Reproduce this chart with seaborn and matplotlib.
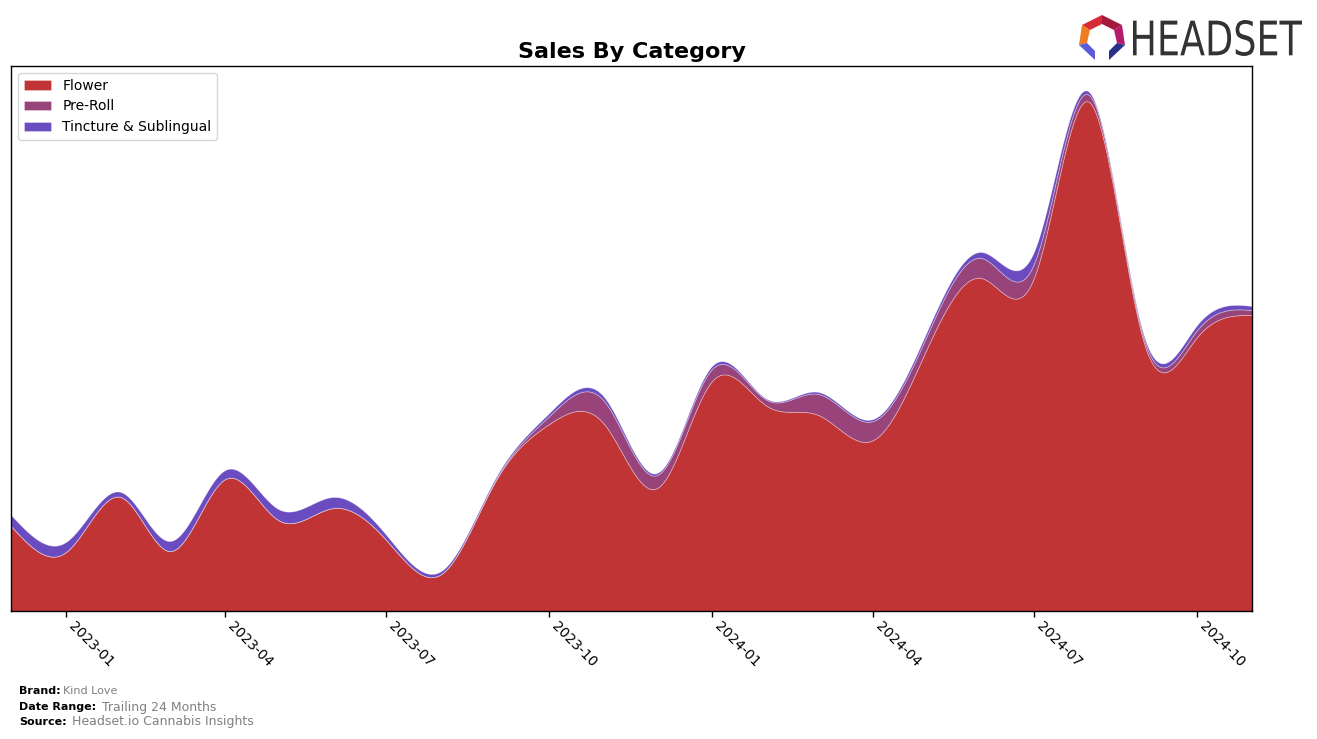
import numpy as np
import pandas as pd
import matplotlib
matplotlib.use("Agg")
import matplotlib.pyplot as plt
import matplotlib.dates as mdates
from matplotlib.patches import Polygon, PathPatch
from matplotlib.textpath import TextPath
from matplotlib.font_manager import FontProperties
from matplotlib.transforms import Affine2D
import seaborn as sns

# ---- data (monthly, arbitrary units) ----
months = pd.date_range("2022-12-01", "2024-11-01", freq="MS")
categories = ["Flower", "Pre-Roll", "Tincture & Sublingual"]
flower = [85, 59, 114, 60, 132, 91, 103, 71, 37, 131, 187, 187,
          123, 230, 205, 196, 171, 261, 333, 334, 509, 268, 274, 296]
preroll = [0, 0, 0, 0, 0, 0, 0, 0, 0, 1, 8, 23,
           13, 12, 6, 21, 19, 13, 20, 14, 7, 4, 7, 5]
tincture = [11, 10, 5, 10, 9, 11, 11, 5, 3, 2, 3, 4,
            2, 3, 1, 2, 2, 4, 6, 12, 3, 3, 5, 4]
colors = ["#c13435", "#98437a", "#6a4cc0"]
tick_months = [1, 4, 7, 10]

df = pd.DataFrame({"month": months, "Flower": flower,
                   "Pre-Roll": preroll, "Tincture & Sublingual": tincture})


def smooth(x, y, xs):
    """natural cubic spline, used only to draw smooth curves through the monthly values"""
    x = np.asarray(x, float); y = np.asarray(y, float)
    n = len(x); h = np.diff(x)
    A = np.zeros((n, n)); b = np.zeros(n)
    A[0, 0] = 1.0; A[-1, -1] = 1.0
    for i in range(1, n - 1):
        A[i, i - 1] = h[i - 1]; A[i, i] = 2 * (h[i - 1] + h[i]); A[i, i + 1] = h[i]
        b[i] = 6 * ((y[i + 1] - y[i]) / h[i] - (y[i] - y[i - 1]) / h[i - 1])
    M = np.linalg.solve(A, b)
    idx = np.clip(np.searchsorted(x, xs) - 1, 0, n - 2)
    x0 = x[idx]; x1 = x[idx + 1]; hh = x1 - x0
    s = (M[idx] * (x1 - xs) ** 3 / (6 * hh) + M[idx + 1] * (xs - x0) ** 3 / (6 * hh)
         + (y[idx] / hh - M[idx] * hh / 6) * (x1 - xs)
         + (y[idx + 1] / hh - M[idx + 1] * hh / 6) * (xs - x0))
    return np.clip(s, 0, None)


sns.set_theme(style="white")
plt.rcParams["font.family"] = ["DejaVu Sans"]
plt.rcParams["text.color"] = "black"

fig = plt.figure(figsize=(13.17, 7.39), dpi=100)
ax = fig.add_axes([11 / 1317, 1 - 611 / 739, (1252 - 11) / 1317, (611 - 66) / 739])

xn = mdates.date2num(df["month"])
xs = np.linspace(xn[0], xn[-1], 1200)
layers = [smooth(xn, df[c].values, xs) for c in categories]
ax.stackplot(mdates.num2date(xs), *layers, colors=colors, labels=categories,
             edgecolor=(1, 1, 1, 0.35), linewidth=0.6)

ax.set_xlim(mdates.num2date(xn[0]), mdates.num2date(xn[-1]))
ax.set_ylim(0, 545)
ax.set_yticks([])
ax.xaxis.set_major_locator(mdates.MonthLocator(bymonth=tick_months))
ax.xaxis.set_major_formatter(mdates.DateFormatter("%Y-%m"))
ax.tick_params(axis="x", bottom=True, length=4, width=1, color="black",
               labelsize=10, labelcolor="black", pad=2)
for lab in ax.get_xticklabels():
    lab.set_rotation(-45)
    lab.set_ha("left")
for sp in ax.spines.values():
    sp.set_visible(True)
    sp.set_color("black")
    sp.set_linewidth(1)
ax.set_xlabel(""); ax.set_ylabel("")
ax.set_title("Sales By Category", fontsize=16, fontweight="bold", pad=6, color="black")

leg = ax.legend(loc="upper left", fontsize=10, frameon=True, borderaxespad=0.5,
                handlelength=2, handleheight=0.7)
leg.get_frame().set_edgecolor("#cccccc")
for t in leg.get_texts():
    t.set_color("black")

# ---- footer ----
fig.text(19 / 1317, 1 - 691 / 739, "Brand:", fontsize=8, fontweight="bold", va="center", color="black")
fig.text(63 / 1317, 1 - 691 / 739, "Kind Love", fontsize=8, color="gray", va="center")
fig.text(19 / 1317, 1 - 707 / 739, "Date Range:", fontsize=8, fontweight="bold", va="center", color="black")
fig.text(102 / 1317, 1 - 707 / 739, "Trailing 24 Months", fontsize=9, color="gray", va="center")
fig.text(19 / 1317, 1 - 722 / 739, "Source:", fontsize=8, fontweight="bold", va="center", color="black")
fig.text(72 / 1317, 1 - 722 / 739, "Headset.io Cannabis Insights", fontsize=9, color="gray", va="center")

# ---- logo ----
H = 739.0
def P(pts):
    return [(x, H - y) for x, y in pts]

cx = 1102
segs = [
    ([(cx, 15), (cx + 20, 25), (cx + 12, 30), (cx, 24)], "#a3183c"),
    ([(cx, 15), (cx, 24), (cx - 12, 30), (cx - 20, 25)], "#d62a36"),
    ([(cx + 20, 25), (cx + 23, 45), (cx + 15, 43), (cx + 12, 30)], "#b41a6e"),
    ([(cx - 20, 25), (cx - 12, 30), (cx - 15, 43), (cx - 23, 45)], "#f07b22"),
    ([(cx + 23, 45), (cx + 15, 43), (cx + 7, 51), (cx + 7, 60)], "#2a2f8c"),
    ([(cx - 23, 45), (cx - 15, 43), (cx - 7, 51), (cx - 7, 60)], "#5b5bd6"),
]
for pts, c in segs:
    fig.patches.append(Polygon(P(pts), closed=True, facecolor=c, edgecolor="none",
                               transform=None, figure=fig))

tp = TextPath((0, 0), "HEADSET", size=100, prop=FontProperties(family="DejaVu Sans"))
bb = tp.get_extents()
sx = (1302 - 1133) / bb.width
sy = (56 - 20) / bb.height
tr = Affine2D().translate(-bb.x0, -bb.y0).scale(sx, sy).translate(1133, H - 56)
fig.patches.append(PathPatch(tr.transform_path(tp), facecolor="#333333", edgecolor="none",
                             transform=None, figure=fig))

fig.savefig("out.png", dpi=100)
